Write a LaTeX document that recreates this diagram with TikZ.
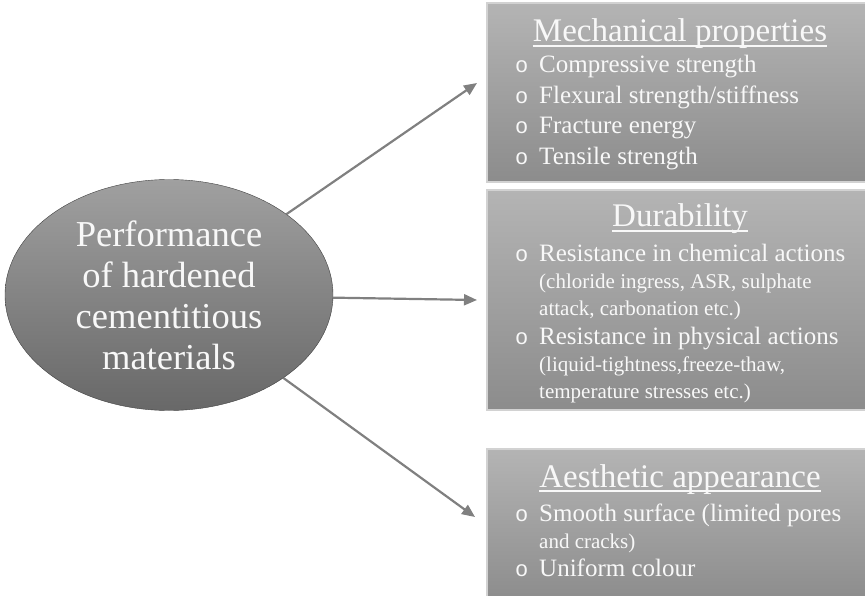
\documentclass[tikz,border=0pt]{standalone}
\usepackage{fontspec}
\setmainfont{Liberation Serif}
\newfontfamily\bulletfont{Liberation Mono}
\usetikzlibrary{shapes.geometric,arrows.meta}
\definecolor{paneltop}{HTML}{B4B4B4}
\definecolor{panelbot}{HTML}{8C8C8C}
\definecolor{ovaltop}{HTML}{A0A0A0}
\definecolor{ovalbot}{HTML}{686868}
\definecolor{linkgray}{HTML}{808080}
\definecolor{rimgray}{HTML}{D2D2D2}
\definecolor{txtwhite}{HTML}{F8F8F8}

\begin{document}
\begin{tikzpicture}[x=1pt,y=-1pt,
  oval/.style={ellipse,draw=black!75,thin,top color=ovaltop,bottom color=ovalbot,
    minimum width=328pt,minimum height=231pt,inner sep=0pt,align=center,
    text=txtwhite,font=\fontsize{36.5}{41}\selectfont},
  panel/.style={rectangle,draw=rimgray,line width=1.2pt,top color=paneltop,
    bottom color=panelbot,inner sep=0pt,minimum width=383pt},
  heading/.style={anchor=base,inner sep=0pt,text=txtwhite,font=\fontsize{33}{36}\selectfont},
  item/.style={anchor=base west,inner sep=0pt,text=txtwhite,font=\fontsize{25}{30}\selectfont},
  subitem/.style={anchor=base west,inner sep=0pt,text=txtwhite,font=\fontsize{21}{26}\selectfont},
  bulletmark/.style={anchor=base west,inner sep=0pt,text=txtwhite,font=\bulletfont\fontsize{22}{26}\selectfont},
  link/.style={draw=linkgray,line width=2.2pt,-{Triangle[length=13pt,width=11pt]}},
  uline/.style={draw=txtwhite,line width=1.3pt}]
  \useasboundingbox (0,0) rectangle (865,596);
  % Central ellipse
  \node[oval] (perf) at (169,295) {Performance\\of hardened\\cementitious\\materials};
  % Panels
  \node[panel,minimum height=179pt] (mech) at (678.5,92.5) {};
  \node[panel,minimum height=220pt] (dura) at (678.5,300) {};
  \node[panel,minimum height=153pt] (aest) at (678.5,525.5) {};
  % Mechanical properties
  \node[heading] (mechT) at (680,42) {Mechanical properties};
  \draw[uline] ([yshift=-4pt]mechT.base west) -- ([yshift=-4pt]mechT.base east);
  \node[bulletmark] (mechO1) at (515,73) {o};
  \node[item] (mech1) at (539,73) {Compressive strength};
  \node[bulletmark] (mechO2) at (515,103.5) {o};
  \node[item] (mech2) at (539,103.5) {Flexural strength/stiffness};
  \node[bulletmark] (mechO3) at (515,134) {o};
  \node[item] (mech3) at (539,134) {Fracture energy};
  \node[bulletmark] (mechO4) at (515,164.5) {o};
  \node[item] (mech4) at (539,164.5) {Tensile strength};
  % Durability
  \node[heading] (duraT) at (680,227) {Durability};
  \draw[uline] ([yshift=-4pt]duraT.base west) -- ([yshift=-4pt]duraT.base east);
  \node[bulletmark] (duraO1) at (515,261.7) {o};
  \node[item] (dura1) at (539,261.7) {Resistance in chemical actions};
  \node[subitem] (dura1a) at (539,288) {(chloride ingress, ASR, sulphate};
  \node[subitem] (dura1b) at (539,316) {attack, carbonation etc.)};
  \node[bulletmark] (duraO2) at (515,344) {o};
  \node[item] (dura2) at (539,344) {Resistance in physical actions};
  \node[subitem] (dura2a) at (539,371.7) {(liquid-tightness,freeze-thaw,};
  \node[subitem] (dura2b) at (539,398) {temperature stresses etc.)};
  % Aesthetic appearance
  \node[heading] (aestT) at (680,487) {Aesthetic appearance};
  \draw[uline] ([yshift=-4pt]aestT.base west) -- ([yshift=-4pt]aestT.base east);
  \node[bulletmark] (aestO1) at (515,521.7) {o};
  \node[item] (aest1) at (539,521.7) {Smooth surface (limited pores};
  \node[subitem] (aest1a) at (539,548) {and cracks)};
  \node[bulletmark] (aestO2) at (515,576.7) {o};
  \node[item] (aest2) at (539,576.7) {Uniform colour};
  % Arrows
  \coordinate (tipM) at (477,83);
  \coordinate (tipD) at (477,300);
  \coordinate (tipA) at (475,517);
  \draw[link] (perf) -- (tipM);
  \draw[link] (perf) -- (tipD);
  \draw[link] (perf) -- (tipA);
\end{tikzpicture}
\end{document}
